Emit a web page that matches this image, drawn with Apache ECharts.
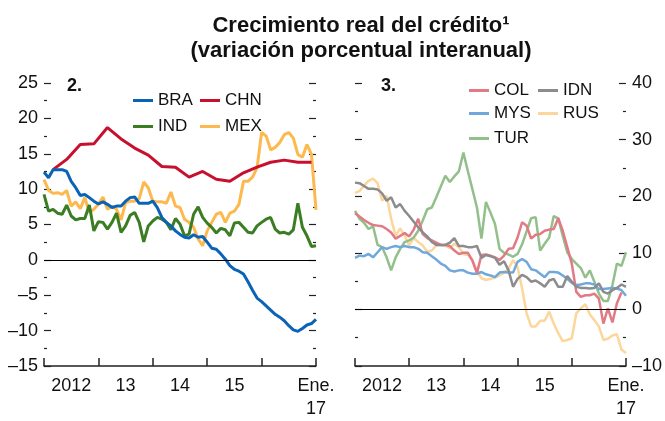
<!DOCTYPE html>
<html>
<head>
<meta charset="utf-8">
<script src="https://cdn.jsdelivr.net/npm/echarts@6/dist/echarts.min.js"></script>
<style>html,body{margin:0;padding:0;background:#fff}#c{width:665px;height:421px}</style>
</head>
<body>
<div id="c"></div>
<script>
// Months: index 0 = Jan 2012 ... index 60 = Jan 2017
const xTickLabels = {6: '2012', 18: '13', 30: '14', 42: '15', 60: 'Ene.\n17'};

// Panel 2
const BRA = [12.4,11.6,12.75,12.75,12.75,12.5,11.1,10.2,9.1,9.25,
  8.8,8.3,7.9,8.2,7.85,7.4,7.6,7.6,8.3,8.8,
  8.9,8.0,8.0,8.0,8.3,7.4,6.0,5.3,4.8,4.1,
  3.6,3.2,3.1,3.55,3.2,3.3,2.5,1.65,1.5,0.85,
  0.1,-0.8,-1.35,-1.6,-2.0,-3.1,-4.3,-5.4,-5.9,-6.5,
  -7.1,-7.7,-8.1,-8.6,-9.3,-9.9,-10.1,-9.7,-9.2,-9.0,-8.4];
const CHN = [null,null,12.75, null,null,14.2, null,null,16.3, null,null,16.4,
  null,null,18.7, null,null,17.1, null,null,15.8, null,null,14.8,
  null,null,13.2, null,null,13.1, null,null,11.7, null,null,12.5,
  null,null,11.4, null,null,11.1, null,null,12.3, null,null,13.1,
  null,null,13.8, null,null,14.1, null,null,13.8, null,null,13.8, null];
const IND = [9.25,6.9,7.15,6.6,6.45,7.75,6.2,5.65,5.85,5.85,
  7.75,4.1,5.4,5.3,4.35,5.3,6.6,3.9,4.8,6.3,
  6.7,5.3,2.55,4.8,5.5,6.0,5.75,5.3,4.25,5.85,
  5.05,3.4,3.65,6.45,7.5,6.0,5.2,4.6,3.8,4.45,
  4.25,3.4,5.2,5.3,4.6,3.9,3.8,4.8,5.3,5.75,
  6.0,4.35,3.8,3.9,3.65,4.25,8.0,4.6,3.4,1.9,2.0];
const MEX = [11.35,9.85,9.4,9.5,9.25,9.8,7.6,8.2,7.25,8.8,
  6.7,7.15,7.85,8.9,7.15,7.6,7.15,5.65,8.1,8.3,
  8.3,8.65,11.0,10.2,8.3,8.2,8.2,8.0,9.6,7.6,
  7.4,5.75,5.3,4.6,2.95,2.0,4.1,5.3,6.45,6.7,
  5.3,6.6,6.9,7.85,11.1,11.1,11.7,13.0,18.0,17.5,
  15.55,15.9,16.6,17.7,18.0,17.2,14.9,14.5,16.3,14.9,7.05];

// Panel 3
const COL = [17.0,16.4,15.8,15.3,14.9,14.8,14.7,14.2,13.6,12.5,
  13.0,13.5,12.9,14.1,16.0,13.3,12.6,12.2,11.8,11.4,
  11.4,11.2,10.4,9.8,10.0,10.0,8.6,6.4,9.6,9.7,
  9.5,9.2,8.7,9.5,10.7,10.8,12.7,15.4,14.8,12.5,
  13.2,13.3,13.9,14.1,14.2,16.1,13.9,11.0,8.1,3.1,
  2.2,2.5,2.5,2.8,1.9,-2.5,0.2,-2.3,1.1,3.0,null];
const IDN = [22.4,22.3,21.8,21.3,21.3,21.2,20.5,19.2,19.8,18.0,
  18.6,17.4,16.5,15.5,14.5,13.6,12.9,11.9,11.4,11.4,
  11.4,11.8,12.6,11.2,11.2,11.0,11.0,11.2,9.1,9.6,
  9.4,9.1,7.9,8.5,6.9,4.0,5.4,6.1,5.7,4.9,
  5.1,4.6,4.0,5.1,5.4,4.0,4.0,5.9,4.9,4.0,
  3.8,3.8,3.7,3.8,4.6,3.1,2.8,3.4,3.8,4.4,4.0];
const MYS = [9.1,9.5,9.4,9.8,9.2,10.1,11.0,10.7,11.0,11.2,
  11.0,11.2,11.0,11.0,10.7,10.1,10.0,9.4,8.8,8.1,
  7.7,6.9,6.7,6.9,6.9,6.5,6.3,6.3,6.6,6.2,
  6.0,5.7,6.5,6.6,6.5,6.5,8.4,8.9,8.4,7.1,
  6.9,6.3,5.7,6.6,6.6,6.5,6.0,5.4,4.7,4.3,
  4.4,4.6,4.6,4.4,3.6,3.6,3.7,3.8,3.7,3.4,2.4];
const RUS = [20.6,20.9,21.9,22.7,23.1,22.3,19.2,20.1,16.0,13.0,
  14.3,13.0,11.3,12.6,11.9,11.3,10.2,10.4,11.3,11.4,
  11.3,10.8,11.6,11.0,9.8,9.6,8.7,6.8,5.5,5.2,
  5.4,5.6,6.0,6.5,7.2,8.7,7.5,3.7,-0.7,-3.0,
  -3.0,-2.0,-2.0,-0.4,-2.5,-4.2,-5.6,-5.4,-5.1,-0.7,
  0.2,0.9,-0.9,-1.9,-3.0,-5.4,-5.2,-4.6,-4.4,-7.1,-7.7];
const TUR = [17.4,16.0,15.3,14.2,14.7,11.4,11.0,9.2,6.9,9.2,
  10.7,11.9,12.2,12.7,13.9,15.7,17.7,18.0,19.8,21.7,
  23.6,22.5,23.5,24.4,27.7,24.4,21.2,18.0,12.5,19.0,
  17.1,15.1,10.7,10.0,9.7,9.3,9.8,11.5,13.8,16.1,
  16.3,10.4,11.6,12.7,16.5,16.1,13.0,10.1,8.9,8.1,
  7.3,5.6,6.9,4.9,2.8,1.5,1.5,4.3,8.1,7.7,10.1];

const SANS = '"Liberation Sans", Arial, sans-serif';
const pts = arr => arr.map((v, i) => [i, v]).filter(p => p[1] !== null);
const dash = v => String(v).replace('-', '\u2013');

const chart = echarts.init(document.getElementById('c'), null, {renderer: 'canvas'});

function xAxesFor(gi) {
  return [
    {gridIndex: gi, type: 'value', position: 'bottom', min: 0, max: 60, interval: 12,
     axisLine: {show: true, onZero: false, lineStyle: {color: '#222', width: 1.5}},
     axisTick: {show: true, inside: true, length: 8, lineStyle: {color: '#222', width: 1.5}},
     axisLabel: {show: false}, splitLine: {show: false}},
    {gridIndex: gi, type: 'value', position: 'bottom', offset: 0, min: 0, max: 60, interval: 6,
     axisLine: {show: false, onZero: false}, axisTick: {show: false}, splitLine: {show: false},
     axisLabel: {show: true, margin: 9, color: '#111', fontFamily: SANS, fontSize: 18, lineHeight: 23,
       formatter: v => xTickLabels[v] || ''}}
  ];
}
function yAxis(gi, pos, min, max, interval, showLabels) {
  return {gridIndex: gi, type: 'value', position: pos, min: min, max: max, interval: interval,
    axisLine: {show: false, onZero: false},
    axisTick: {show: true, inside: true, length: 7, lineStyle: {color: '#222', width: 1.2}},
    minorTick: {show: true, splitNumber: 2, length: 3, lineStyle: {color: '#222', width: 1.2}},
    splitLine: {show: false},
    axisLabel: {show: showLabels, margin: 6, color: '#111', fontFamily: SANS, fontSize: 18, formatter: dash}};
}
function line(name, data, color, xi, yi, w, extra) {
  return Object.assign({name: name, type: 'line', xAxisIndex: xi, yAxisIndex: yi, data: pts(data),
    showSymbol: false, symbol: 'none', connectNulls: true, lineStyle: {color: color, width: w},
    itemStyle: {color: color}, z: 3}, extra || {});
}
const zeroLine = {silent: true, symbol: 'none', label: {show: false},
  lineStyle: {color: '#000', width: 1, type: 'solid'}, data: [{yAxis: 0}]};
function leg(name, left, top) {
  return {data: [name], left: left, top: top, icon: 'rect', itemWidth: 20, itemHeight: 3,
    padding: 0, textStyle: {fontFamily: SANS, fontSize: 17, color: '#111'}, selectedMode: false};
}

chart.setOption({
  animation: false,
  backgroundColor: '#fff',
  title: [
    {text: 'Crecimiento real del crédito\u00b9\n(variación porcentual interanual)', left: 356, top: 8,
     textAlign: 'center',
     textStyle: {fontFamily: SANS, fontWeight: 'bold', fontSize: 22, lineHeight: 25, color: '#111'}},
    {text: '2.', left: 62, top: 72, textStyle: {fontFamily: SANS, fontWeight: 'bold', fontSize: 18, color: '#111'}},
    {text: '3.', left: 376, top: 72, textStyle: {fontFamily: SANS, fontWeight: 'bold', fontSize: 18, color: '#111'}}
  ],
  legend: [
    leg('BRA', 133, 92), leg('CHN', 200, 92), leg('IND', 133, 118), leg('MEX', 200, 118),
    leg('COL', 469, 82), leg('IDN', 538, 82), leg('MYS', 469, 105), leg('RUS', 538, 105), leg('TUR', 469, 130)
  ],
  grid: [
    {left: 44, top: 83, width: 272, height: 284},
    {left: 355, top: 83, width: 272, height: 284}
  ],
  xAxis: xAxesFor(0).concat(xAxesFor(1)),
  yAxis: [
    yAxis(0, 'left', -15, 25, 5, true),
    yAxis(0, 'right', -15, 25, 5, false),
    yAxis(1, 'left', -10, 40, 10, false),
    yAxis(1, 'right', -10, 40, 10, true)
  ],
  series: [
    line('MEX', MEX, '#FDB94E', 0, 0, 3, {markLine: zeroLine}),
    line('IND', IND, '#3B7D23', 0, 0, 3),
    line('CHN', CHN, '#C8102E', 0, 0, 3),
    line('BRA', BRA, '#0B63B5', 0, 0, 3),
    line('RUS', RUS, '#FDD69B', 2, 2, 2.5, {markLine: zeroLine}),
    line('TUR', TUR, '#93BF8B', 2, 2, 2.5),
    line('MYS', MYS, '#6FA8DC', 2, 2, 2.5),
    line('COL', COL, '#E17A85', 2, 2, 2.5),
    line('IDN', IDN, '#8C8C8E', 2, 2, 2.5)
  ]
});
</script>
</body>
</html>
